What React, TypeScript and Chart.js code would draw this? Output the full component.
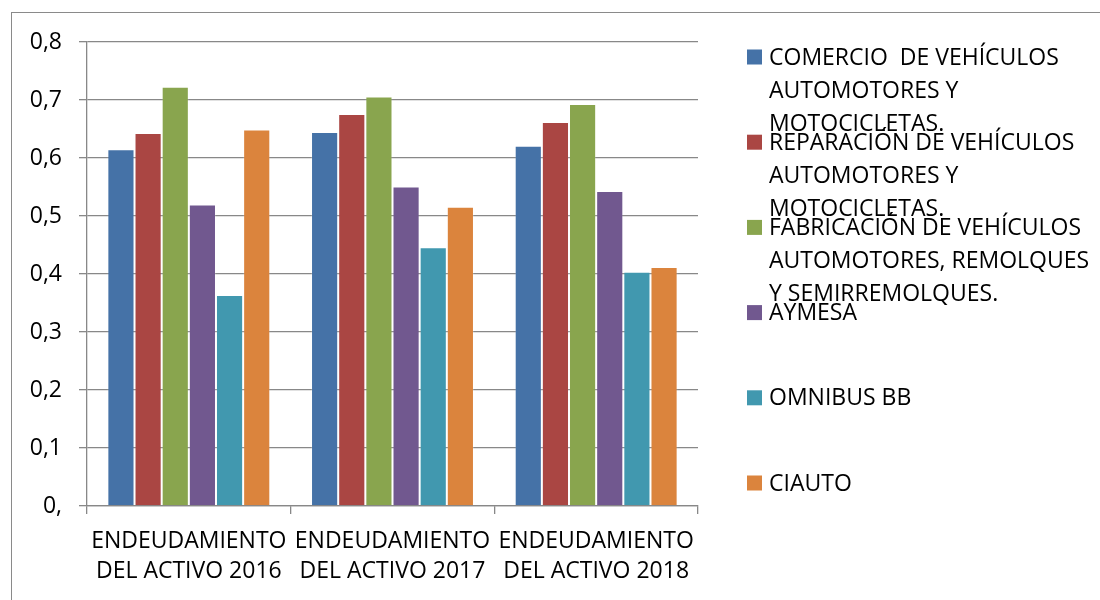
import React, { useEffect, useRef } from "react";
import { Chart, registerables } from "chart.js";

Chart.register(...registerables);

const categories: string[][] = [
  ["ENDEUDAMIENTO", "DEL ACTIVO 2016"],
  ["ENDEUDAMIENTO", "DEL ACTIVO 2017"],
  ["ENDEUDAMIENTO", "DEL ACTIVO 2018"],
];

const seriesNames: string[] = [
  "COMERCIO  DE VEHÍCULOS AUTOMOTORES Y MOTOCICLETAS.",
  "REPARACIÓN DE VEHÍCULOS AUTOMOTORES Y MOTOCICLETAS.",
  "FABRICACIÓN DE VEHÍCULOS AUTOMOTORES, REMOLQUES Y SEMIRREMOLQUES.",
  "AYMESA",
  "OMNIBUS BB",
  "CIAUTO",
];

const legendLines: string[][] = [
  ["COMERCIO  DE VEHÍCULOS", "AUTOMOTORES Y", "MOTOCICLETAS."],
  ["REPARACIÓN DE VEHÍCULOS", "AUTOMOTORES Y", "MOTOCICLETAS."],
  ["FABRICACIÓN DE VEHÍCULOS", "AUTOMOTORES, REMOLQUES", "Y SEMIRREMOLQUES."],
  ["AYMESA"],
  ["OMNIBUS BB"],
  ["CIAUTO"],
];

const comercio: number[] = [0.615, 0.645, 0.621];
const reparacion: number[] = [0.643, 0.676, 0.662];
const fabricacion: number[] = [0.723, 0.706, 0.693];
const aymesa: number[] = [0.52, 0.551, 0.543];
const omnibus: number[] = [0.364, 0.446, 0.404];
const ciauto: number[] = [0.649, 0.516, 0.412];

const seriesValues: number[][] = [comercio, reparacion, fabricacion, aymesa, omnibus, ciauto];

const colors: string[] = ["#4572A7", "#AA4643", "#89A54E", "#71588F", "#4198AF", "#DB843D"];

const FONT = "'Open Sans', sans-serif";

const legendPlugin = {
  id: "sideLegend",
  afterDraw(chart: any) {
    const ctx = chart.ctx;
    const area = chart.chartArea;
    const x0 = area.right + 49;
    const y0 = area.top + 15;
    const itemGap = 85.2;
    const lineGap = 33;
    ctx.save();
    ctx.font = `23px ${FONT}`;
    ctx.textBaseline = "middle";
    ctx.textAlign = "left";
    chart.data.datasets.forEach((ds: any, i: number) => {
      const yc = y0 + i * itemGap;
      ctx.fillStyle = ds.backgroundColor;
      ctx.fillRect(x0, yc - 7.5, 15, 15);
      ctx.fillStyle = "#000";
      legendLines[i].forEach((line, j) => {
        ctx.fillText(line, x0 + 22, yc + 1 + j * lineGap);
      });
    });
    ctx.restore();
  },
};

export default function App() {
  const ref = useRef<HTMLCanvasElement | null>(null);

  useEffect(() => {
    if (!ref.current) return;
    const chart = new Chart(ref.current, {
      type: "bar",
      data: {
        labels: categories,
        datasets: seriesNames.map((name, i) => ({
          label: name,
          data: seriesValues[i],
          backgroundColor: colors[i],
          borderColor: "rgba(255,255,255,0.18)",
          borderWidth: 1,
          categoryPercentage: 0.8,
          barPercentage: 1.0,
        })),
      },
      options: {
        animation: false,
        responsive: false,
        layout: { padding: { top: 42, left: 0, right: 402, bottom: 0 } },
        plugins: {
          legend: { display: false },
          tooltip: { enabled: false },
        },
        scales: {
          x: {
            grid: {
              display: true,
              drawOnChartArea: false,
              drawTicks: true,
              tickLength: 8,
              color: "#888888",
              lineWidth: 1.3,
            },
            border: { display: true, color: "#888888", width: 1.3 },
            ticks: {
              color: "#000",
              font: { family: FONT, size: 23, lineHeight: 1.3 },
              padding: 13,
              maxRotation: 0,
              autoSkip: false,
            },
            afterFit(scale: any) {
              scale.height = 94;
            },
          },
          y: {
            min: 0,
            max: 0.8,
            grid: {
              color: "#888888",
              lineWidth: 1.3,
              drawTicks: true,
              tickLength: 8,
            },
            border: { display: true, color: "#888888", width: 1.3 },
            ticks: {
              stepSize: 0.1,
              color: "#000",
              padding: 17,
              font: { family: FONT, size: 23 },
              callback: (v: any) => {
                const n = Number(v);
                if (Math.abs(n) < 1e-9) return "0,";
                return n.toFixed(1).replace(".", ",");
              },
            },
            afterFit(scale: any) {
              scale.width = 87;
            },
          },
        },
      },
      plugins: [legendPlugin],
    });
    return () => chart.destroy();
  }, []);

  return (
    <div
      style={{
        position: "fixed",
        left: 0,
        top: 0,
        width: 1100,
        height: 600,
        overflow: "hidden",
        background: "#fff",
      }}
    >
      <div
        style={{
          position: "absolute",
          left: 11,
          top: 12,
          width: 1300,
          height: 800,
          border: "1.3px solid #8a8a8a",
          boxSizing: "border-box",
        }}
      />
      <canvas
        ref={ref}
        width={1100}
        height={600}
        style={{ position: "absolute", left: 0, top: 0, width: 1100, height: 600 }}
      />
    </div>
  );
}
